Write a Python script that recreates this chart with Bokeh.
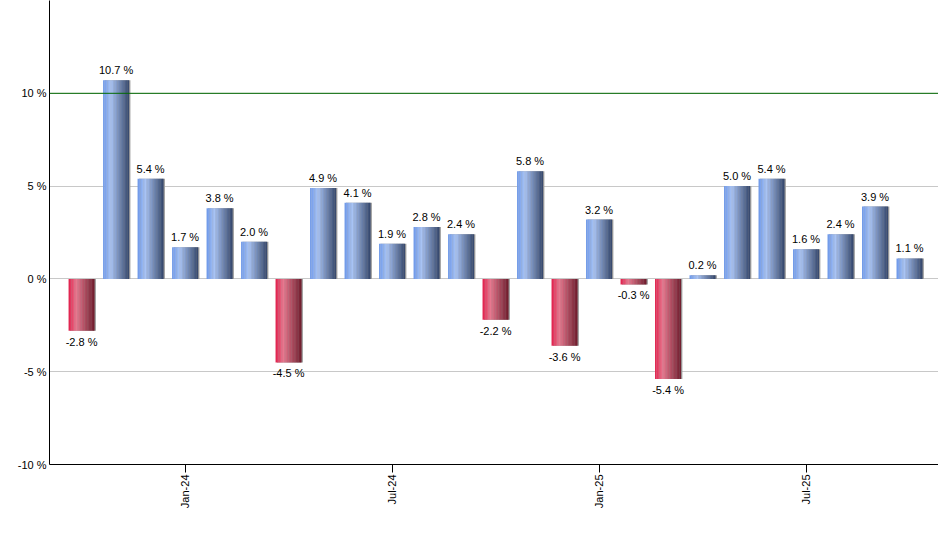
import math
from bokeh.plotting import figure
from bokeh.models import Range1d, FixedTicker, Span, ColumnDataSource
from bokeh.embed import file_html
from bokeh.resources import INLINE
from bokeh.core.properties import value

# ---- data ----
months = ["Oct-23", "Nov-23", "Dec-23", "Jan-24", "Feb-24", "Mar-24", "Apr-24", "May-24",
          "Jun-24", "Jul-24", "Aug-24", "Sep-24", "Oct-24", "Nov-24", "Dec-24", "Jan-25",
          "Feb-25", "Mar-25", "Apr-25", "May-25", "Jun-25", "Jul-25", "Aug-25", "Sep-25",
          "Oct-25"]
returns = [-2.8, 10.7, 5.4, 1.7, 3.8, 2.0, -4.5, 4.9, 4.1, 1.9, 2.8, 2.4, -2.2, 5.8,
           -3.6, 3.2, -0.3, -5.4, 0.2, 5.0, 5.4, 1.6, 2.4, 3.9, 1.1]
tick_months = ["Jan-24", "Jul-24", "Jan-25", "Jul-25"]
y_ticks = [-10, -5, 0, 5, 10, 15]
target_level = 10

FONT = "Liberation Sans"
BAR_W = 0.75
N_STRIPS = 18

blue_stops = [(0.0, (0x6d, 0x98, 0xe8)), (0.3, (0xa9, 0xc4, 0xf5)), (1.0, (0x34, 0x46, 0x6a))]
red_stops = [(0.0, (0xe0, 0x20, 0x4c)), (0.3, (0xe8, 0x78, 0x8f)), (1.0, (0x6e, 0x1c, 0x2c))]


def grad(stops, t):
    for (t0, c0), (t1, c1) in zip(stops[:-1], stops[1:]):
        if t <= t1:
            f = (t - t0) / (t1 - t0)
            c = [round(a + (b - a) * f) for a, b in zip(c0, c1)]
            return "#%02x%02x%02x" % tuple(c)
    return "#%02x%02x%02x" % stops[-1][1]


xs = list(range(len(months)))

p = figure(width=938, height=534, output_backend="svg", toolbar_location=None,
           x_range=Range1d(-0.93, 24.84), y_range=Range1d(-10, 15),
           min_border_left=49, min_border_right=0, min_border_top=0, min_border_bottom=70)
p.outline_line_color = None
p.background_fill_color = "white"
p.border_fill_color = "white"

# shadow
p.vbar(x=[x + 0.04 for x in xs], width=BAR_W, top=[max(v, 0) for v in returns],
       bottom=[min(v, 0) for v in returns], fill_color="#9a9a9a", line_color=None)

# gradient strips
sx, stop, sbot, scol = [], [], [], []
sw = BAR_W / N_STRIPS
for x, v in zip(xs, returns):
    stops = blue_stops if v >= 0 else red_stops
    for k in range(N_STRIPS):
        t = (k + 0.5) / N_STRIPS
        sx.append(x - BAR_W / 2 + (k + 0.5) * sw)
        stop.append(max(v, 0))
        sbot.append(min(v, 0))
        scol.append(grad(stops, t))
p.vbar(x=sx, width=sw * 1.12, top=stop, bottom=sbot, fill_color=scol, line_color=None)

# grid & reference lines
p.xgrid.visible = False
p.ygrid.ticker = FixedTicker(ticks=y_ticks)
p.ygrid.grid_line_color = "#c8c8c8"
p.add_layout(Span(location=target_level, dimension="width", line_color="#006a00", line_width=1))

# labels
pos = ColumnDataSource(dict(x=[x for x, v in zip(xs, returns) if v >= 0],
                            y=[v for v in returns if v >= 0],
                            t=["%.1f %%" % v for v in returns if v >= 0]))
neg = ColumnDataSource(dict(x=[x for x, v in zip(xs, returns) if v < 0],
                            y=[v for v in returns if v < 0],
                            t=["%.1f %%" % v for v in returns if v < 0]))
p.text(x="x", y="y", text="t", source=pos, text_align="center", text_baseline="bottom",
       y_offset=-4, text_font=value(FONT), text_font_size="11px", text_color="black")
p.text(x="x", y="y", text="t", source=neg, text_align="center", text_baseline="top",
       y_offset=5, text_font=value(FONT), text_font_size="11px", text_color="black")

# axes
tick_idx = [months.index(m) for m in tick_months]
p.xaxis.ticker = FixedTicker(ticks=tick_idx)
p.xaxis.major_label_overrides = {i: months[i] for i in tick_idx}
p.xaxis.major_label_orientation = math.pi / 2
p.xaxis.major_tick_out = 8
p.xaxis.major_tick_in = 0
p.xaxis.minor_tick_line_color = None
p.xaxis.major_label_standoff = 2
p.xaxis.axis_line_color = "black"
p.xaxis.major_tick_line_color = "black"

p.yaxis.ticker = FixedTicker(ticks=y_ticks[:-1])
p.yaxis.major_label_overrides = {t: "%d %%" % t for t in y_ticks}
p.yaxis.major_tick_out = 0
p.yaxis.major_tick_in = 0
p.yaxis.minor_tick_line_color = None
p.yaxis.major_label_standoff = 3
p.yaxis.axis_line_color = "black"

for ax in (p.xaxis, p.yaxis):
    ax.major_label_text_font = FONT
    ax.major_label_text_font_size = "11px"
    ax.major_label_text_color = "black"

open("out.html", "w").write(file_html(p, INLINE))
